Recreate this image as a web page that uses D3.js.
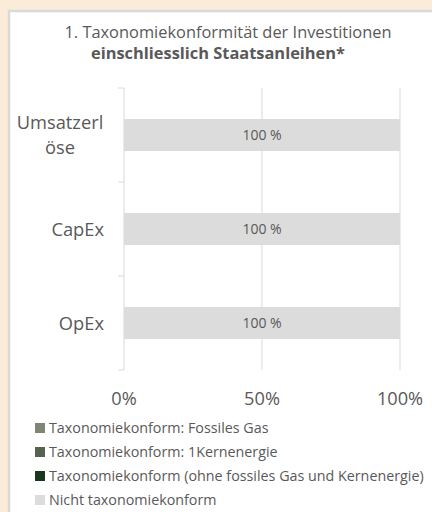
<!DOCTYPE html>
<html><head><meta charset="utf-8">
<script src="https://cdn.jsdelivr.net/npm/d3@7"></script>
<style>
html,body{margin:0;padding:0;background:#faecd8;}
svg{display:block;}
text{font-family:"Open Sans",Lato,sans-serif;fill:#595959;}
</style></head>
<body>
<svg id="c" width="432" height="512"></svg>
<script>
const categories = ["Umsatzerlöse", "CapEx", "OpEx"];
const categoryLines = [["Umsatzerl", "öse"], ["CapEx"], ["OpEx"]];
const seriesNames = ["Taxonomiekonform: Fossiles Gas", "Taxonomiekonform: 1Kernenergie", "Taxonomiekonform (ohne fossiles Gas und Kernenergie)", "Nicht taxonomiekonform"];
const fossilesGas = [0, 0, 0];
const kernenergie = [0, 0, 0];
const konformOhne = [0, 0, 0];
const nichtKonform = [100, 100, 100];
const xTicks = [0, 50, 100];
const colors = ["#7e8774", "#56624e", "#1b381c", "#dcdcdc"];
const titleLine1 = "1. Taxonomiekonformität der Investitionen";
const titleLine2 = "einschliesslich Staatsanleihen*";

const svg = d3.select("#c");
svg.append("rect").attr("x", 9).attr("y", 11).attr("width", 430).attr("height", 510)
  .attr("fill", "#fff").attr("stroke", "#d9d9d9").attr("stroke-width", 2.5);

svg.append("text").attr("x", 228).attr("y", 38).attr("text-anchor", "middle")
  .style("font-size", "16.4px").text(titleLine1);
svg.append("text").attr("x", 218).attr("y", 59).attr("text-anchor", "middle")
  .style("font-size", "16.4px").style("font-weight", "bold").text(titleLine2);

const data = categories.map((c, i) => ({cat: c, s0: fossilesGas[i], s1: kernenergie[i], s2: konformOhne[i], s3: nichtKonform[i]}));
const stack = d3.stack().keys(["s0", "s1", "s2", "s3"])(data);

const x = d3.scaleLinear().domain([0, 100]).range([124, 400]);
const y = d3.scaleBand().domain(categories).range([88, 370]).paddingInner(0.66).paddingOuter(0.33);

// gridlines
svg.append("g").selectAll("line").data(xTicks.slice(1)).join("line")
  .attr("x1", d => x(d)).attr("x2", d => x(d)).attr("y1", 88).attr("y2", 370)
  .attr("stroke", "#d9d9d9").attr("stroke-width", 1);

// bars
svg.append("g").selectAll("g").data(stack).join("g")
  .attr("fill", (d, i) => colors[i])
  .selectAll("rect").data(d => d).join("rect")
  .attr("x", d => x(d[0])).attr("width", d => x(d[1]) - x(d[0]))
  .attr("y", d => y(d.data.cat)).attr("height", y.bandwidth());

// value labels
svg.append("g").selectAll("text").data(data).join("text")
  .attr("x", d => x(d.s3 / 2 + d.s0 + d.s1 + d.s2)).attr("y", d => y(d.cat) + y.bandwidth() / 2 + 5)
  .attr("text-anchor", "middle").style("font-size", "14px")
  .text(d => d.s3 + " %");

// y axis
const yBand = d3.scaleBand().domain(categories).range([88, 370]);
const ticksY = [88].concat(categories.map(c => yBand(c) + yBand.bandwidth()));
svg.append("line").attr("x1", 124).attr("x2", 124).attr("y1", 88).attr("y2", 370)
  .attr("stroke", "#d9d9d9").attr("stroke-width", 1);
svg.append("g").selectAll("line").data(ticksY).join("line")
  .attr("x1", 118).attr("x2", 124).attr("y1", d => d).attr("y2", d => d)
  .attr("stroke", "#d9d9d9").attr("stroke-width", 1);

categories.forEach((c, i) => {
  const lines = categoryLines[i];
  const cy = yBand(c) + yBand.bandwidth() / 2;
  const lh = 25;
  const t = svg.append("text").attr("text-anchor", "middle").style("font-size", "18.3px");
  lines.forEach((l, j) => {
    t.append("tspan").attr("x", 60).attr("y", cy + 6.5 + (j - (lines.length - 1) / 2) * lh).text(l);
  });
  if (lines.length === 1) t.attr("text-anchor", "end").selectAll("tspan").attr("x", 104);
});

// x tick labels
svg.append("g").selectAll("text").data(xTicks).join("text")
  .attr("x", d => x(d)).attr("y", 404.5).attr("text-anchor", "middle")
  .style("font-size", "18.2px").text(d => d + "%");

// legend
const lg = svg.append("g");
seriesNames.forEach((n, i) => {
  const ly = 428 + i * 24;
  lg.append("rect").attr("x", 35).attr("y", ly - 5).attr("width", 10).attr("height", 10).attr("fill", colors[i]);
  lg.append("text").attr("x", 49).attr("y", ly + 5).style("font-size", "14.3px").text(n);
});
</script>
</body></html>
